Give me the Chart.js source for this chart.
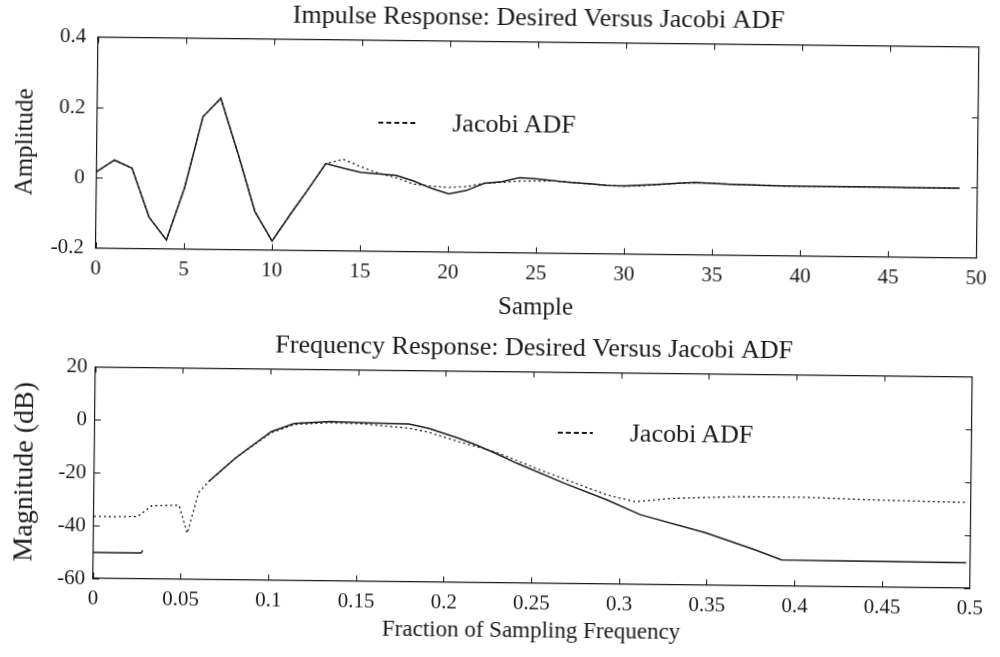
<!DOCTYPE html>
<html>
<head>
<meta charset="utf-8">
<title>Desired Versus Jacobi ADF</title>
<script src="https://cdn.jsdelivr.net/npm/chart.js@4.4.1/dist/chart.umd.min.js"></script>
<style>
  html, body { margin: 0; padding: 0; background: #fff; overflow: hidden; }
  /* the scanned figure sits slightly skewed on the page */
  #sheet { position: relative; width: 1000px; height: 657px; transform: rotate(0.645deg); transform-origin: 500px 328.5px; }
  #sheet canvas { position: absolute; left: 0; }
  #impulse { top: 0; }
  #freq { top: 330px; }
  .key { position: absolute; height: 30px; display: flex; align-items: center;
         font-family: 'Liberation Serif', 'Times New Roman', serif; font-size: 26px; color: #1a1a1a; }
  .key svg { display: block; }
</style>
</head>
<body>
<div id="sheet">
  <canvas id="impulse" width="1000" height="330"></canvas>
  <canvas id="freq" width="1000" height="327"></canvas>
  <div class="key" id="key1" style="left:376px; top:109px;"></div>
  <div class="key" id="key2" style="left:559px; top:417px;"></div>
</div>
<script>
// impulse response, samples 0..49
const sampleIdx = [...Array(50).keys()];
const desiredImpulse = [
  0.018, 0.051, 0.029, -0.11, -0.174, -0.025, 0.177, 0.23, 0.075, -0.09,
  -0.174, -0.099, -0.027, 0.048, 0.035, 0.024, 0.02, 0.017, 0.001, -0.019,
  -0.034, -0.024, -0.003, 0.002, 0.014, 0.011, 0.006, 0.002, -0.001, -0.005,
  -0.006, -0.003, 0, 0.003, 0.006, 0.004, 0.002, 0.001, 0, -0.001,
  -0.001, -0.001, -0.001, -0.001, -0.001, -0.001, -0.002, -0.002, -0.002, -0.002
];
const jacobiImpulse = [
  0.018, 0.051, 0.029, -0.11, -0.174, -0.025, 0.177, 0.23, 0.075, -0.09,
  -0.174, -0.099, -0.027, 0.048, 0.06, 0.04, 0.022, 0.01, -0.008, -0.013,
  -0.016, -0.013, -0.003, 0, 0.004, 0.005, 0.006, 0.002, -0.002, -0.005,
  -0.007, -0.005, -0.001, 0.003, 0.005, 0.004, 0.002, 0.001, 0, -0.001,
  -0.001, -0.001, -0.001, -0.001, -0.001, -0.001, -0.002, -0.002, -0.002, -0.002
];

// frequency response (fraction of fs, dB); null = no curve drawn
const freqDesired = [0, 0.0272, 0.028, 0.03, 0.0653, 0.0802, 0.1006, 0.1137, 0.134, 0.151, 0.179,
  0.1905, 0.2076, 0.2172, 0.2285, 0.2408, 0.2682, 0.2925, 0.3116, 0.349, 0.3773, 0.3924, 0.4243, 0.4977];
const magDesired = [-50.2, -50.2, -49.2, null, -22.9, -14.0, -3.8, -0.6, 0.2, 0, -0.3,
  -1.9, -5.5, -7.9, -11.0, -14.7, -22.1, -28.2, -33.6, -40.2, -46.4, -50.1, -50.2, -50.4];
const freqJacobi = [0, 0.012, 0.025, 0.033, 0.0485, 0.0533, 0.058, 0.0595, 0.0653, 0.0802, 0.1006,
  0.1137, 0.134, 0.151, 0.179, 0.1905, 0.2076, 0.2285, 0.254, 0.2925, 0.3085, 0.33, 0.367, 0.404, 0.442, 0.4977];
const magJacobi = [-36.5, -36.6, -36.4, -32.3, -32.0, -42.5, -31.1, -27.2, -22.9, -14.0, -4.2,
  -1.0, -0.2, -0.4, -1.9, -3.4, -6.8, -10.5, -17.1, -26.3, -28.7, -27.3, -26.4, -26.3, -27.0, -27.6];

const seriesNames = ['Desired', 'Jacobi ADF'];

const sampleTicks = [0, 5, 10, 15, 20, 25, 30, 35, 40, 45, 50];
const sampleTickLabels = ['0', '5', '10', '15', '20', '25', '30', '35', '40', '45', '50'];
const ampTicks = [-0.2, 0, 0.2, 0.4];
const ampTickLabels = ['-0.2', '0', '0.2', '0.4'];
const freqTicks = [0, 0.05, 0.1, 0.15, 0.2, 0.25, 0.3, 0.35, 0.4, 0.45, 0.5];
const freqTickLabels = ['0', '0.05', '0.1', '0.15', '0.2', '0.25', '0.3', '0.35', '0.4', '0.45', '0.5'];
const dbTicks = [-60, -40, -20, 0, 20];
const dbTickLabels = ['-60', '-40', '-20', '0', '20'];

const serif = "'Liberation Serif', 'Times New Roman', serif";
const ink = '#1a1a1a';
const jacobiDash = [2, 3];

const pairs = (xs, ys) => xs.map((x, i) => ({ x: x, y: ys[i] }));
const useTicks = list => axis => { axis.ticks = list.map(v => ({ value: v })); };
const labelFor = (list, labels) => v => labels[list.indexOf(v)];

// MATLAB-style box: ticks pointing inward on all four sides
function boxScales(c) {
  const grid = { display: true, drawOnChartArea: false, drawTicks: true, tickLength: -6, color: ink, lineWidth: 1 };
  const border = { display: true, color: ink, width: 1.2 };
  const xr = { type: 'linear', min: c.xTicks[0], max: c.xTicks[c.xTicks.length - 1], afterBuildTicks: useTicks(c.xTicks), grid: grid, border: border };
  const yr = { type: 'linear', min: c.yTicks[0], max: c.yTicks[c.yTicks.length - 1], afterBuildTicks: useTicks(c.yTicks), grid: grid, border: border };
  return {
    x: Object.assign({}, xr, {
      position: 'bottom',
      ticks: { autoSkip: false, maxRotation: 0, padding: 14, color: ink, font: { family: serif, size: 21 }, callback: labelFor(c.xTicks, c.xLabels) },
      title: { display: true, text: c.xTitle, color: ink, font: { family: serif, size: c.xTitleSize }, padding: { top: 0, bottom: c.xTitlePad } },
      afterFit: a => { a.height = c.xHeight; }
    }),
    x2: Object.assign({}, xr, { position: 'top', ticks: { display: false }, afterFit: a => { a.height = 0; } }),
    y: Object.assign({}, yr, {
      position: 'left',
      ticks: { padding: c.yTickPad, color: ink, font: { family: serif, size: 21 }, callback: labelFor(c.yTicks, c.yLabels) },
      title: { display: true, text: c.yTitle, color: ink, font: { family: serif, size: c.yTitleSize }, padding: { top: c.yTitlePad, bottom: 0 } },
      afterFit: a => { a.width = c.yWidth; }
    }),
    y2: Object.assign({}, yr, { position: 'right', ticks: { display: false }, afterFit: a => { a.width = 0; } })
  };
}

function lineSet(label, data, dash, width) {
  return { label: label, data: data, borderColor: ink, borderWidth: width, borderDash: dash,
           pointRadius: 0, tension: 0, fill: false, spanGaps: false };
}

function titleOpts(text, top, bottom) {
  return { display: true, text: text, fullSize: false, color: ink,
           font: { family: serif, size: 26, weight: 'normal' }, padding: { top: top, bottom: bottom } };
}

new Chart(document.getElementById('impulse'), {
  type: 'line',
  data: {
    datasets: [
      lineSet(seriesNames[0], pairs(sampleIdx, desiredImpulse), [], 1.5),
      lineSet(seriesNames[1], pairs(sampleIdx, jacobiImpulse), jacobiDash, 1.3)
    ]
  },
  options: {
    responsive: false, animation: false,
    layout: { padding: { left: 0, right: 15, top: 0, bottom: 0 } },
    plugins: {
      legend: { display: false }, tooltip: { enabled: false },
      title: titleOpts('Impulse Response: Desired Versus Jacobi ADF', 2.4, 8)
    },
    scales: boxScales({
      xTicks: sampleTicks, xLabels: sampleTickLabels, xTitle: 'Sample', xTitleSize: 25, xTitlePad: 7.6, xHeight: 77.2,
      yTicks: ampTicks, yLabels: ampTickLabels, yTitle: 'Amplitude', yTitleSize: 25, yTitlePad: 8, yWidth: 95, yTickPad: 18
    })
  }
});

new Chart(document.getElementById('freq'), {
  type: 'line',
  data: {
    datasets: [
      lineSet(seriesNames[0], pairs(freqDesired, magDesired), [], 1.5),
      lineSet(seriesNames[1], pairs(freqJacobi, magJacobi), jacobiDash, 1.3)
    ]
  },
  options: {
    responsive: false, animation: false,
    layout: { padding: { left: 0, right: 17, top: 0, bottom: 0 } },
    plugins: {
      legend: { display: false }, tooltip: { enabled: false },
      title: titleOpts('Frequency Response: Desired Versus Jacobi ADF', 2.4, 7.6)
    },
    scales: boxScales({
      xTicks: freqTicks, xLabels: freqTickLabels, xTitle: 'Fraction of Sampling Frequency', xTitleSize: 23, xTitlePad: 12, xHeight: 74,
      yTicks: dbTicks, yLabels: dbTickLabels, yTitle: 'Magnitude (dB)', yTitleSize: 28, yTitlePad: 9.5, yWidth: 96, yTickPad: 14
    })
  }
});

// in-plot key: only the Jacobi curve is listed, as in the original figure
function drawKey(id, dashLen, gap) {
  const key = document.getElementById(id);
  key.innerHTML = '<svg width="' + dashLen + '" height="4"><line x1="0" y1="2" x2="' + dashLen +
    '" y2="2" stroke="' + ink + '" stroke-width="2" stroke-dasharray="5 3"/></svg>' +
    '<span style="margin-left:' + gap + 'px">' + seriesNames[1] + '</span>';
}
drawKey('key1', 37, 37);
drawKey('key2', 35, 37);
</script>
</body>
</html>
